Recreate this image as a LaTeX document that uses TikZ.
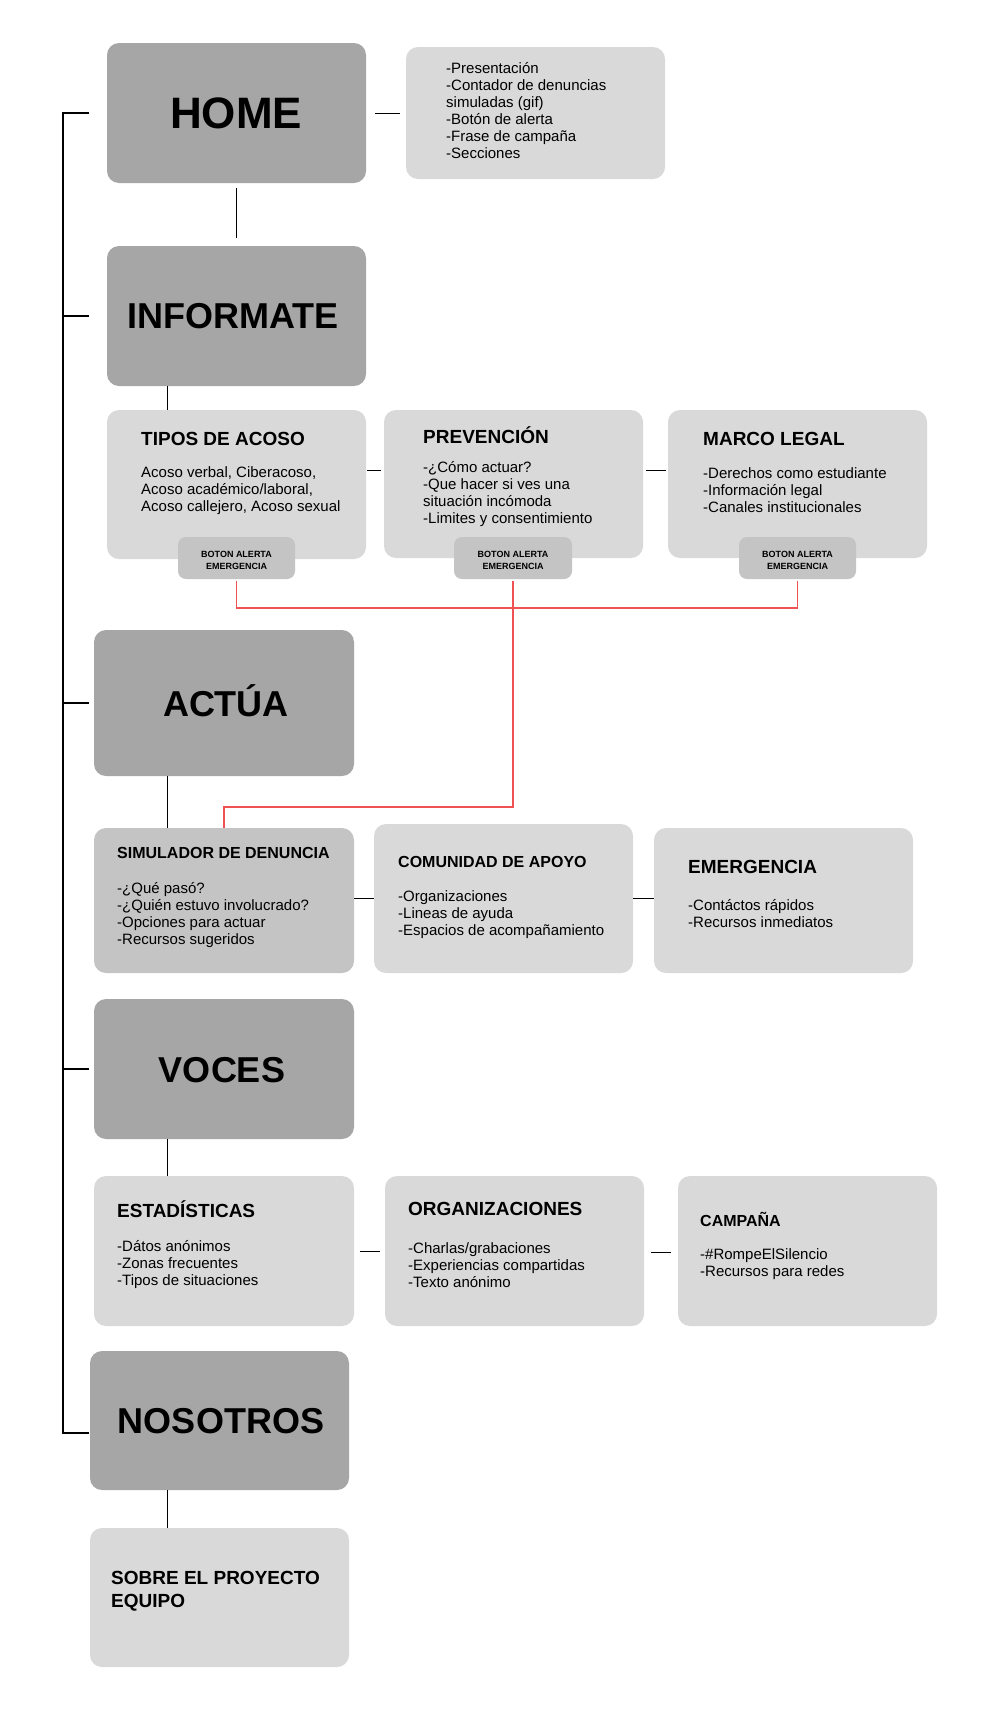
\documentclass[tikz,border=0pt]{standalone}
\usepackage{fontspec}
\setmainfont{Liberation Sans}
\definecolor{darkbox}{HTML}{A6A6A6}
\definecolor{lightbox}{HTML}{D9D9D9}
\definecolor{midbox}{HTML}{C4C4C4}
\definecolor{redline}{RGB}{240,82,82}
\tikzset{
  boxd/.style={fill=darkbox,rounded corners=12pt,draw=none},
  boxl/.style={fill=lightbox,rounded corners=12pt,draw=none},
  boxm/.style={fill=midbox,rounded corners=12pt,draw=none},
  boxb/.style={fill=midbox,rounded corners=8pt,draw=none},
  big/.style={font=\fontsize{36}{40}\selectfont\bfseries,inner sep=0pt},
  ttl/.style={font=\fontsize{19}{23}\selectfont\bfseries,inner sep=0pt,anchor=west,align=left},
  ttls/.style={font=\fontsize{16}{19}\selectfont\bfseries,inner sep=0pt,anchor=west,align=left},
  body/.style={font=\fontsize{15}{17}\selectfont,inner sep=0pt,anchor=west,align=left},
  btn/.style={font=\fontsize{9}{12}\selectfont\bfseries,inner sep=0pt,align=center},
  conn/.style={draw=black,line width=1pt},
  trunk/.style={draw=black,line width=1.1pt},
  alert/.style={draw=redline,line width=1.6pt},
}
\begin{document}
\begin{tikzpicture}[x=1pt,y=-1pt]
\useasboundingbox[fill=white] (0,0) rectangle (985,1719);
% boxes
\node[boxd,minimum width=259pt,minimum height=140pt] (home) at (236.5,113) {};
\node[boxl,minimum width=259pt,minimum height=132pt] (homed) at (535.5,113) {};
\node[boxd,minimum width=259pt,minimum height=140pt] (info) at (236.5,316) {};
\node[boxl,minimum width=259pt,minimum height=149pt] (tipos) at (236.5,484.5) {};
\node[boxl,minimum width=259pt,minimum height=148pt] (prev) at (513.5,484) {};
\node[boxl,minimum width=259pt,minimum height=148pt] (marco) at (797.5,484) {};
\node[boxb,minimum width=117pt,minimum height=42pt] (bot1) at (236.5,558) {};
\node[boxb,minimum width=118pt,minimum height=42pt] (bot2) at (513,558) {};
\node[boxb,minimum width=117pt,minimum height=42pt] (bot3) at (797.5,558) {};
\node[boxd,minimum width=260pt,minimum height=146pt] (actua) at (224,703) {};
\node[boxm,minimum width=260pt,minimum height=145pt] (sim) at (224,900.5) {};
\node[boxl,minimum width=259pt,minimum height=149pt] (com) at (503.5,898.5) {};
\node[boxl,minimum width=259pt,minimum height=145pt] (emer) at (783.5,900.5) {};
\node[boxd,minimum width=260pt,minimum height=140pt] (voces) at (224,1069) {};
\node[boxl,minimum width=260pt,minimum height=150pt] (estad) at (224,1251) {};
\node[boxl,minimum width=259pt,minimum height=150pt] (org) at (514.5,1251) {};
\node[boxl,minimum width=259pt,minimum height=150pt] (camp) at (807.5,1251) {};
\node[boxd,minimum width=259pt,minimum height=139pt] (nos) at (219.5,1420.5) {};
\node[boxl,minimum width=259pt,minimum height=139pt] (sobre) at (219.5,1597.5) {};
% big titles
\node[big,font=\fontsize{44}{48}\selectfont\bfseries] (thome) at (236,113) {HOME};
\node[big] (tinfo) at (233,316) {INFORMATE};
\node[big] (tactua) at (226,701) {ACTÚA};
\node[big] (tvoces) at (222,1070) {VOCES};
\node[big] (tnos) at (221,1421) {NOSOTROS};
% home details
\node[body] (dhome) at (446,110.5) {-Presentación\\-Contador de denuncias\\simuladas (gif)\\-Botón de alerta\\-Frase de campaña\\-Secciones};
% informate children
\node[ttl] (ttipos) at (141,439) {TIPOS DE ACOSO};
\node[body] (btipos) at (141,490.5) {Acoso verbal, Ciberacoso,\\Acoso académico/laboral,\\Acoso callejero, Acoso sexual};
\node[ttl] (tprev) at (423,435) {PREVENCIÓN};
\node[body] (bprev) at (423,494.5) {-¿Cómo actuar?\\-Que hacer si ves una\\situación incómoda\\-Limites y consentimiento};
\node[ttl] (tmarco) at (703,439) {MARCO LEGAL};
\node[body] (bmarco) at (703,490) {-Derechos como estudiante\\-Información legal\\-Canales institucionales};
\node[btn] (lb1) at (236.5,560) {BOTON ALERTA\\EMERGENCIA};
\node[btn] (lb2) at (513,560) {BOTON ALERTA\\EMERGENCIA};
\node[btn] (lb3) at (797.5,560) {BOTON ALERTA\\EMERGENCIA};
% actua children
\node[ttls] (tsim) at (117,853) {SIMULADOR DE DENUNCIA};
\node[body] (bsim) at (117,915.5) {-¿Qué pasó?\\-¿Quién estuvo involucrado?\\-Opciones para actuar\\-Recursos sugeridos};
\node[ttls] (tcom) at (398,862) {COMUNIDAD DE APOYO};
\node[body] (bcom) at (398,915) {-Organizaciones\\-Lineas de ayuda\\-Espacios de acompañamiento};
\node[ttl] (temer) at (688,867) {EMERGENCIA};
\node[body] (bemer) at (688,913.5) {-Contáctos rápidos\\-Recursos inmediatos};
% voces children
\node[ttl] (testad) at (117,1209) {ESTADÍSTICAS};
\node[body] (bestad) at (117,1265) {-Dátos anónimos\\-Zonas frecuentes\\-Tipos de situaciones};
\node[ttl] (torg) at (408,1209) {ORGANIZACIONES};
\node[body] (borg) at (408,1265) {-Charlas/grabaciones\\-Experiencias compartidas\\-Texto anónimo};
\node[ttls] (tcamp) at (700,1219) {CAMPAÑA};
\node[body] (bcamp) at (700,1264.5) {-\#RompeElSilencio\\-Recursos para redes};
% nosotros child
\node[ttl] (tsobre) at (111,1591.5) {SOBRE EL PROYECTO\\EQUIPO};
% trunk
\coordinate (trtop) at (63,113);
\coordinate (trbot) at (63,1433);
\coordinate (tk1) at (89,113);
\coordinate (tk2) at (89,316);
\coordinate (tk3) at (89,703);
\coordinate (tk4) at (89,1069);
\coordinate (tk5) at (89,1433);
\draw[trunk] (tk1) -- (trtop) -- (trbot) -- (tk5);
\draw[trunk] (trtop |- tk2) -- (tk2);
\draw[trunk] (trtop |- tk3) -- (tk3);
\draw[trunk] (trtop |- tk4) -- (tk4);
% connector end points
\coordinate (rowa) at (0,470);
\coordinate (rowb) at (0,898);
\coordinate (cA1) at (367,470);
\coordinate (cA2) at (381,470);
\coordinate (cB1) at (646,470);
\coordinate (cB2) at (666,470);
% connectors
\draw[conn] ([xshift=9pt]home.east) -- ([xshift=-6pt]homed.west);
\draw[conn] ([yshift=-5pt]home.south) -- ([yshift=8pt]info.north);
\draw[conn] (info.south -| 167,0) -- (tipos.north -| 167,0);
\draw[conn] (cA1) -- (cA2);
\draw[conn] (cB1) -- (cB2);
\draw[conn] (actua.south -| 167,0) -- (sim.north -| 167,0);
\draw[conn] (sim.east |- rowb) -- (com.west |- rowb);
\draw[conn] (com.east |- rowb) -- (emer.west |- rowb);
\draw[conn] (voces.south -| 167,0) -- (estad.north -| 167,0);
\draw[conn] ([xshift=6pt]estad.east) -- ([xshift=-5pt]org.west);
\draw[conn] ([xshift=7pt,yshift=-1pt]org.east) -- ([xshift=-7pt,yshift=-1pt]camp.west);
\draw[conn] (nos.south -| 167,0) -- (sobre.north -| 167,0);
% alert lines
\coordinate (rbus) at (0,608);
\coordinate (rlow) at (0,807);
\draw[alert] ([yshift=-2pt]bot1.south) -- (bot1.south |- rbus) -- (bot3.south |- rbus) -- ([yshift=-2pt]bot3.south);
\draw[alert] ([yshift=-2pt]bot2.south) -- (bot2.south |- rlow) -- (224,807) -- (sim.north -| 224,0);
\end{tikzpicture}
\end{document}
